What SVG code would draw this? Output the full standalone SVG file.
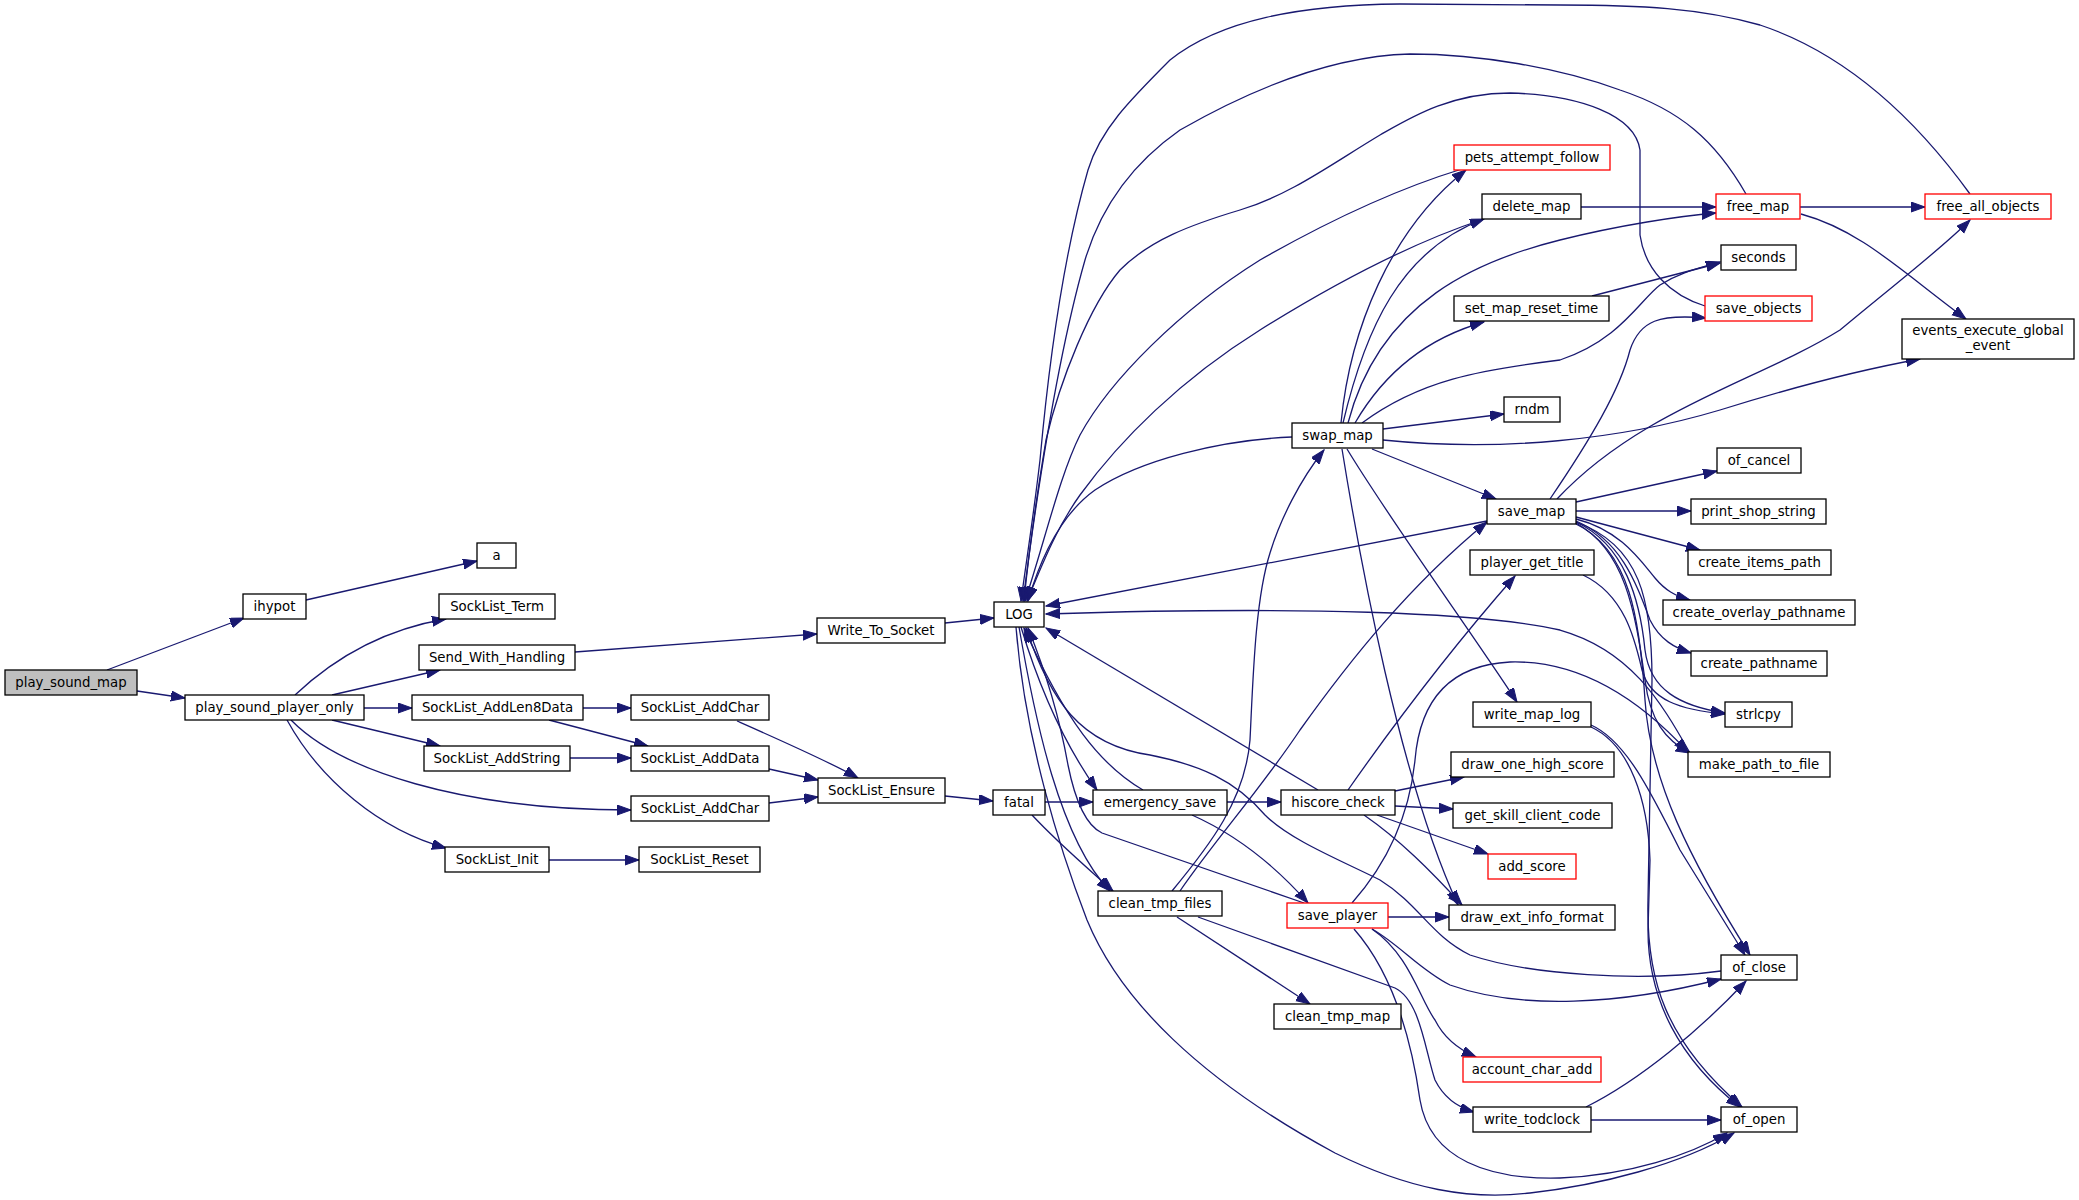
<svg xmlns="http://www.w3.org/2000/svg" width="2079" height="1200" viewBox="0 0 2079 1200">
<style>
.n rect{fill:#fff;stroke:#000;stroke-width:1.3}
.n.root rect{fill:#bfbfbf}
.n.red rect{stroke:#ff0000}
.n text{font-family:"DejaVu Sans","Liberation Sans",sans-serif;font-size:13.3px;fill:#000;text-anchor:middle}
#edges path{fill:none;stroke:#191970;stroke-width:1.3;marker-end:url(#ah)}
</style>
<defs>
<marker id="ah" markerUnits="userSpaceOnUse" markerWidth="15" markerHeight="11" refX="14" refY="5" orient="auto">
<path d="M0,0 L14,5 L0,10 z" fill="#191970" stroke="#191970" stroke-width="1"/>
</marker>
</defs>
<rect width="2079" height="1200" fill="#fff"/>
<g id="edges">
<path d="M107,670 L244,618"/>
<path d="M137,691 L185,698"/>
<path d="M306,600 L477,561"/>
<path d="M295,695 C330,662 380,630 446,619"/>
<path d="M332,695 L440,670"/>
<path d="M364,708 L412,708"/>
<path d="M332,720 L440,746"/>
<path d="M291,720 C340,770 460,810 631,810"/>
<path d="M287,720 C320,780 380,830 446,848"/>
<path d="M575,652 L817,634"/>
<path d="M583,708 L631,708"/>
<path d="M549,720 L648,746"/>
<path d="M570,758 L631,758"/>
<path d="M737,721 C780,740 830,762 858,778"/>
<path d="M769,769 L818,780"/>
<path d="M769,803 L818,797"/>
<path d="M549,860 L639,860"/>
<path d="M945,623 L994,618"/>
<path d="M945,796 L993,801"/>
<path d="M1045,802 L1093,802"/>
<path d="M1032,815 C1060,845 1090,870 1113,891"/>
<path d="M1227,802 L1281,802"/>
<path d="M1192,815 C1230,832 1270,860 1308,903"/>
<path d="M1143,790 C1100,765 1065,720 1024,628"/>
<path d="M1021,627 C1040,690 1065,745 1097,790"/>
<path d="M1019,627 C1035,720 1060,840 1110,891"/>
<path d="M1016,627 C1025,740 1060,850 1087,920 C1120,1000 1200,1080 1335,1153 C1410,1190 1470,1200 1530,1193 C1600,1185 1680,1165 1734,1133"/>
<path d="M1304,903 L1102,833 C1085,825 1075,800 1068,765 C1060,720 1045,670 1028,628"/>
<path d="M1721,971 C1640,982 1530,975 1470,955 C1430,935 1420,905 1380,880 C1340,860 1290,840 1265,815 C1235,780 1200,765 1150,755 C1080,745 1050,700 1026,628"/>
<path d="M1318,790 L1046,628"/>
<path d="M1487,521 L1046,606"/>
<path d="M1690,753 C1660,700 1630,650 1560,630 C1480,612 1300,606 1046,614"/>
<path d="M1970,194 C1920,125 1850,55 1760,25 C1700,8 1640,5 1560,5 L1400,4 C1300,5 1220,20 1170,60 C1130,100 1100,130 1088,170 C1065,250 1050,350 1040,460 C1033,520 1025,570 1021,601"/>
<path d="M1746,194 C1715,140 1680,110 1620,90 C1560,68 1480,54 1410,54 C1330,56 1250,90 1180,130 C1130,165 1100,210 1085,260 C1065,330 1045,430 1023,601"/>
<path d="M1705,306 C1670,295 1645,270 1640,235 L1640,150 C1635,115 1580,95 1510,93 C1450,93 1410,118 1380,135 C1330,165 1290,195 1240,210 C1190,225 1150,240 1120,270 C1090,305 1060,380 1046,440 C1036,500 1028,560 1024,601"/>
<path d="M1462,169 C1400,188 1330,220 1260,260 C1180,310 1110,380 1080,435 C1060,475 1045,540 1025,601"/>
<path d="M1484,219 C1420,240 1340,280 1260,330 C1180,380 1120,440 1080,495 C1055,530 1040,570 1027,601"/>
<path d="M1292,437 C1220,440 1140,460 1095,490 C1060,515 1040,560 1028,601"/>
<path d="M1341,423 C1350,330 1390,230 1466,170"/>
<path d="M1343,423 C1365,330 1400,250 1484,219"/>
<path d="M1348,423 C1380,300 1480,260 1560,240 C1620,225 1680,216 1716,213"/>
<path d="M1581,207 L1716,207"/>
<path d="M1800,207 L1925,207"/>
<path d="M1801,214 C1860,230 1900,270 1966,319"/>
<path d="M1355,423 C1380,380 1420,340 1484,322"/>
<path d="M1362,423 C1420,380 1480,370 1560,360 C1620,340 1640,300 1660,285 C1680,272 1700,268 1720,262"/>
<path d="M1592,296 L1720,263"/>
<path d="M1383,429 L1504,414"/>
<path d="M1383,440 C1500,452 1620,440 1720,410 C1800,385 1860,370 1920,359"/>
<path d="M1372,449 L1496,499"/>
<path d="M1347,449 C1390,520 1470,630 1517,702"/>
<path d="M1342,449 C1360,560 1400,780 1458,905"/>
<path d="M1172,891 C1210,845 1245,800 1250,740 C1253,680 1255,600 1270,553 C1280,520 1300,480 1324,450"/>
<path d="M1180,891 C1215,840 1260,790 1300,730 C1350,660 1410,585 1487,522"/>
<path d="M1576,502 L1717,471"/>
<path d="M1576,511 L1691,511"/>
<path d="M1576,517 L1700,550"/>
<path d="M1576,519 C1620,530 1640,560 1655,578 C1665,590 1675,596 1690,600"/>
<path d="M1576,521 C1620,540 1635,580 1650,620 C1660,640 1675,648 1691,653"/>
<path d="M1576,522 C1625,545 1640,600 1645,650 C1650,690 1680,706 1725,713"/>
<path d="M1576,523 C1625,550 1635,610 1645,680 C1650,720 1665,740 1690,753"/>
<path d="M1576,524 C1630,550 1640,620 1645,700 C1650,780 1690,860 1750,955"/>
<path d="M1576,522 C1640,545 1652,600 1652,680 L1648,900 C1646,980 1665,1040 1742,1107"/>
<path d="M1550,499 C1590,440 1620,390 1630,350 C1640,320 1660,314 1706,318"/>
<path d="M1557,499 C1640,410 1760,380 1840,330 C1900,280 1940,250 1970,220"/>
<path d="M1583,575 C1625,595 1635,640 1642,670 C1650,700 1680,710 1725,714"/>
<path d="M1348,790 C1390,730 1450,650 1515,576"/>
<path d="M1395,791 L1464,777"/>
<path d="M1395,806 L1453,809"/>
<path d="M1377,815 L1488,854"/>
<path d="M1364,815 C1400,840 1430,870 1462,905"/>
<path d="M1388,917 L1449,917"/>
<path d="M1352,903 C1390,860 1410,810 1415,760 C1420,700 1450,665 1510,662 C1580,660 1640,700 1688,752"/>
<path d="M1372,929 C1400,945 1420,970 1450,985 C1520,1010 1620,1005 1721,979"/>
<path d="M1372,929 C1410,955 1420,1000 1435,1020 C1445,1040 1460,1050 1476,1057"/>
<path d="M1354,929 C1390,970 1410,1030 1420,1100 C1430,1160 1490,1180 1560,1178 C1630,1175 1690,1155 1727,1133"/>
<path d="M1177,917 L1310,1004"/>
<path d="M1198,917 L1395,988 C1420,1000 1425,1050 1435,1080 C1445,1100 1460,1108 1474,1112"/>
<path d="M1591,1120 L1721,1120"/>
<path d="M1586,1107 C1640,1080 1700,1030 1746,981"/>
<path d="M1591,725 C1625,740 1650,790 1680,850 L1745,955"/>
<path d="M1591,727 C1630,745 1648,800 1650,860 L1648,930 C1648,1000 1680,1060 1740,1107"/>
</g>
<g id="node-play_sound_map" class="n root"><rect x="5" y="670" width="132" height="25"/><text x="71" y="687">play_sound_map</text></g>
<g id="node-ihypot" class="n"><rect x="243" y="594" width="63" height="25"/><text x="274.5" y="611">ihypot</text></g>
<g id="node-play_sound_player_only" class="n"><rect x="185" y="695" width="179" height="25"/><text x="274.5" y="712">play_sound_player_only</text></g>
<g id="node-a" class="n"><rect x="477" y="543" width="39" height="25"/><text x="496.5" y="560">a</text></g>
<g id="node-SockList_Term" class="n"><rect x="439" y="594" width="116" height="25"/><text x="497" y="611">SockList_Term</text></g>
<g id="node-Send_With_Handling" class="n"><rect x="419" y="645" width="156" height="25"/><text x="497" y="662">Send_With_Handling</text></g>
<g id="node-SockList_AddLen8Data" class="n"><rect x="412" y="695" width="171" height="25"/><text x="497.5" y="712">SockList_AddLen8Data</text></g>
<g id="node-SockList_AddString" class="n"><rect x="424" y="746" width="146" height="25"/><text x="497" y="763">SockList_AddString</text></g>
<g id="node-SockList_Init" class="n"><rect x="445" y="847" width="104" height="25"/><text x="497" y="864">SockList_Init</text></g>
<g id="node-SockList_AddChar" class="n"><rect x="631" y="695" width="138" height="25"/><text x="700" y="712">SockList_AddChar</text></g>
<g id="node-SockList_AddData" class="n"><rect x="631" y="746" width="138" height="25"/><text x="700" y="763">SockList_AddData</text></g>
<g id="node-SockList_AddChar2" class="n"><rect x="631" y="796" width="138" height="25"/><text x="700" y="813">SockList_AddChar</text></g>
<g id="node-SockList_Reset" class="n"><rect x="639" y="847" width="121" height="25"/><text x="699.5" y="864">SockList_Reset</text></g>
<g id="node-Write_To_Socket" class="n"><rect x="817" y="618" width="128" height="25"/><text x="881" y="635">Write_To_Socket</text></g>
<g id="node-SockList_Ensure" class="n"><rect x="818" y="778" width="127" height="25"/><text x="881.5" y="795">SockList_Ensure</text></g>
<g id="node-LOG" class="n"><rect x="994" y="602" width="50" height="25"/><text x="1019" y="619">LOG</text></g>
<g id="node-fatal" class="n"><rect x="993" y="790" width="52" height="25"/><text x="1019" y="807">fatal</text></g>
<g id="node-emergency_save" class="n"><rect x="1093" y="790" width="134" height="25"/><text x="1160" y="807">emergency_save</text></g>
<g id="node-clean_tmp_files" class="n"><rect x="1098" y="891" width="124" height="25"/><text x="1160" y="908">clean_tmp_files</text></g>
<g id="node-swap_map" class="n"><rect x="1292" y="423" width="91" height="25"/><text x="1337.5" y="440">swap_map</text></g>
<g id="node-hiscore_check" class="n"><rect x="1281" y="790" width="114" height="25"/><text x="1338" y="807">hiscore_check</text></g>
<g id="node-save_player" class="n red"><rect x="1287" y="903" width="101" height="25"/><text x="1337.5" y="920">save_player</text></g>
<g id="node-clean_tmp_map" class="n"><rect x="1274" y="1004" width="127" height="25"/><text x="1337.5" y="1021">clean_tmp_map</text></g>
<g id="node-pets_attempt_follow" class="n red"><rect x="1454" y="145" width="156" height="25"/><text x="1532" y="162">pets_attempt_follow</text></g>
<g id="node-delete_map" class="n"><rect x="1482" y="194" width="99" height="25"/><text x="1531.5" y="211">delete_map</text></g>
<g id="node-set_map_reset_time" class="n"><rect x="1454" y="296" width="155" height="25"/><text x="1531.5" y="313">set_map_reset_time</text></g>
<g id="node-rndm" class="n"><rect x="1504" y="397" width="56" height="25"/><text x="1532" y="414">rndm</text></g>
<g id="node-save_map" class="n"><rect x="1487" y="499" width="89" height="25"/><text x="1531.5" y="516">save_map</text></g>
<g id="node-player_get_title" class="n"><rect x="1470" y="550" width="124" height="25"/><text x="1532" y="567">player_get_title</text></g>
<g id="node-write_map_log" class="n"><rect x="1473" y="702" width="118" height="25"/><text x="1532" y="719">write_map_log</text></g>
<g id="node-draw_one_high_score" class="n"><rect x="1451" y="752" width="163" height="25"/><text x="1532.5" y="769">draw_one_high_score</text></g>
<g id="node-get_skill_client_code" class="n"><rect x="1453" y="803" width="159" height="25"/><text x="1532.5" y="820">get_skill_client_code</text></g>
<g id="node-add_score" class="n red"><rect x="1488" y="854" width="88" height="25"/><text x="1532" y="871">add_score</text></g>
<g id="node-draw_ext_info_format" class="n"><rect x="1449" y="905" width="166" height="25"/><text x="1532" y="922">draw_ext_info_format</text></g>
<g id="node-account_char_add" class="n red"><rect x="1463" y="1057" width="138" height="25"/><text x="1532" y="1074">account_char_add</text></g>
<g id="node-write_todclock" class="n"><rect x="1473" y="1107" width="118" height="25"/><text x="1532" y="1124">write_todclock</text></g>
<g id="node-free_map" class="n red"><rect x="1716" y="194" width="84" height="25"/><text x="1758" y="211">free_map</text></g>
<g id="node-seconds" class="n"><rect x="1721" y="245" width="75" height="25"/><text x="1758.5" y="262">seconds</text></g>
<g id="node-save_objects" class="n red"><rect x="1705" y="296" width="107" height="25"/><text x="1758.5" y="313">save_objects</text></g>
<g id="node-of_cancel" class="n"><rect x="1717" y="448" width="84" height="25"/><text x="1759" y="465">of_cancel</text></g>
<g id="node-print_shop_string" class="n"><rect x="1691" y="499" width="135" height="25"/><text x="1758.5" y="516">print_shop_string</text></g>
<g id="node-create_items_path" class="n"><rect x="1688" y="550" width="143" height="25"/><text x="1759.5" y="567">create_items_path</text></g>
<g id="node-create_overlay_pathname" class="n"><rect x="1663" y="600" width="192" height="25"/><text x="1759" y="617">create_overlay_pathname</text></g>
<g id="node-create_pathname" class="n"><rect x="1691" y="651" width="136" height="25"/><text x="1759" y="668">create_pathname</text></g>
<g id="node-strlcpy" class="n"><rect x="1725" y="702" width="67" height="25"/><text x="1758.5" y="719">strlcpy</text></g>
<g id="node-make_path_to_file" class="n"><rect x="1688" y="752" width="142" height="25"/><text x="1759" y="769">make_path_to_file</text></g>
<g id="node-of_close" class="n"><rect x="1721" y="955" width="76" height="25"/><text x="1759" y="972">of_close</text></g>
<g id="node-of_open" class="n"><rect x="1721" y="1107" width="76" height="25"/><text x="1759" y="1124">of_open</text></g>
<g id="node-free_all_objects" class="n red"><rect x="1925" y="194" width="126" height="25"/><text x="1988" y="211">free_all_objects</text></g>
<g id="node-events_execute_global_event" class="n"><rect x="1902" y="319" width="172" height="40"/><text x="1988" y="335">events_execute_global</text><text x="1988" y="350">_event</text></g>
</svg>
